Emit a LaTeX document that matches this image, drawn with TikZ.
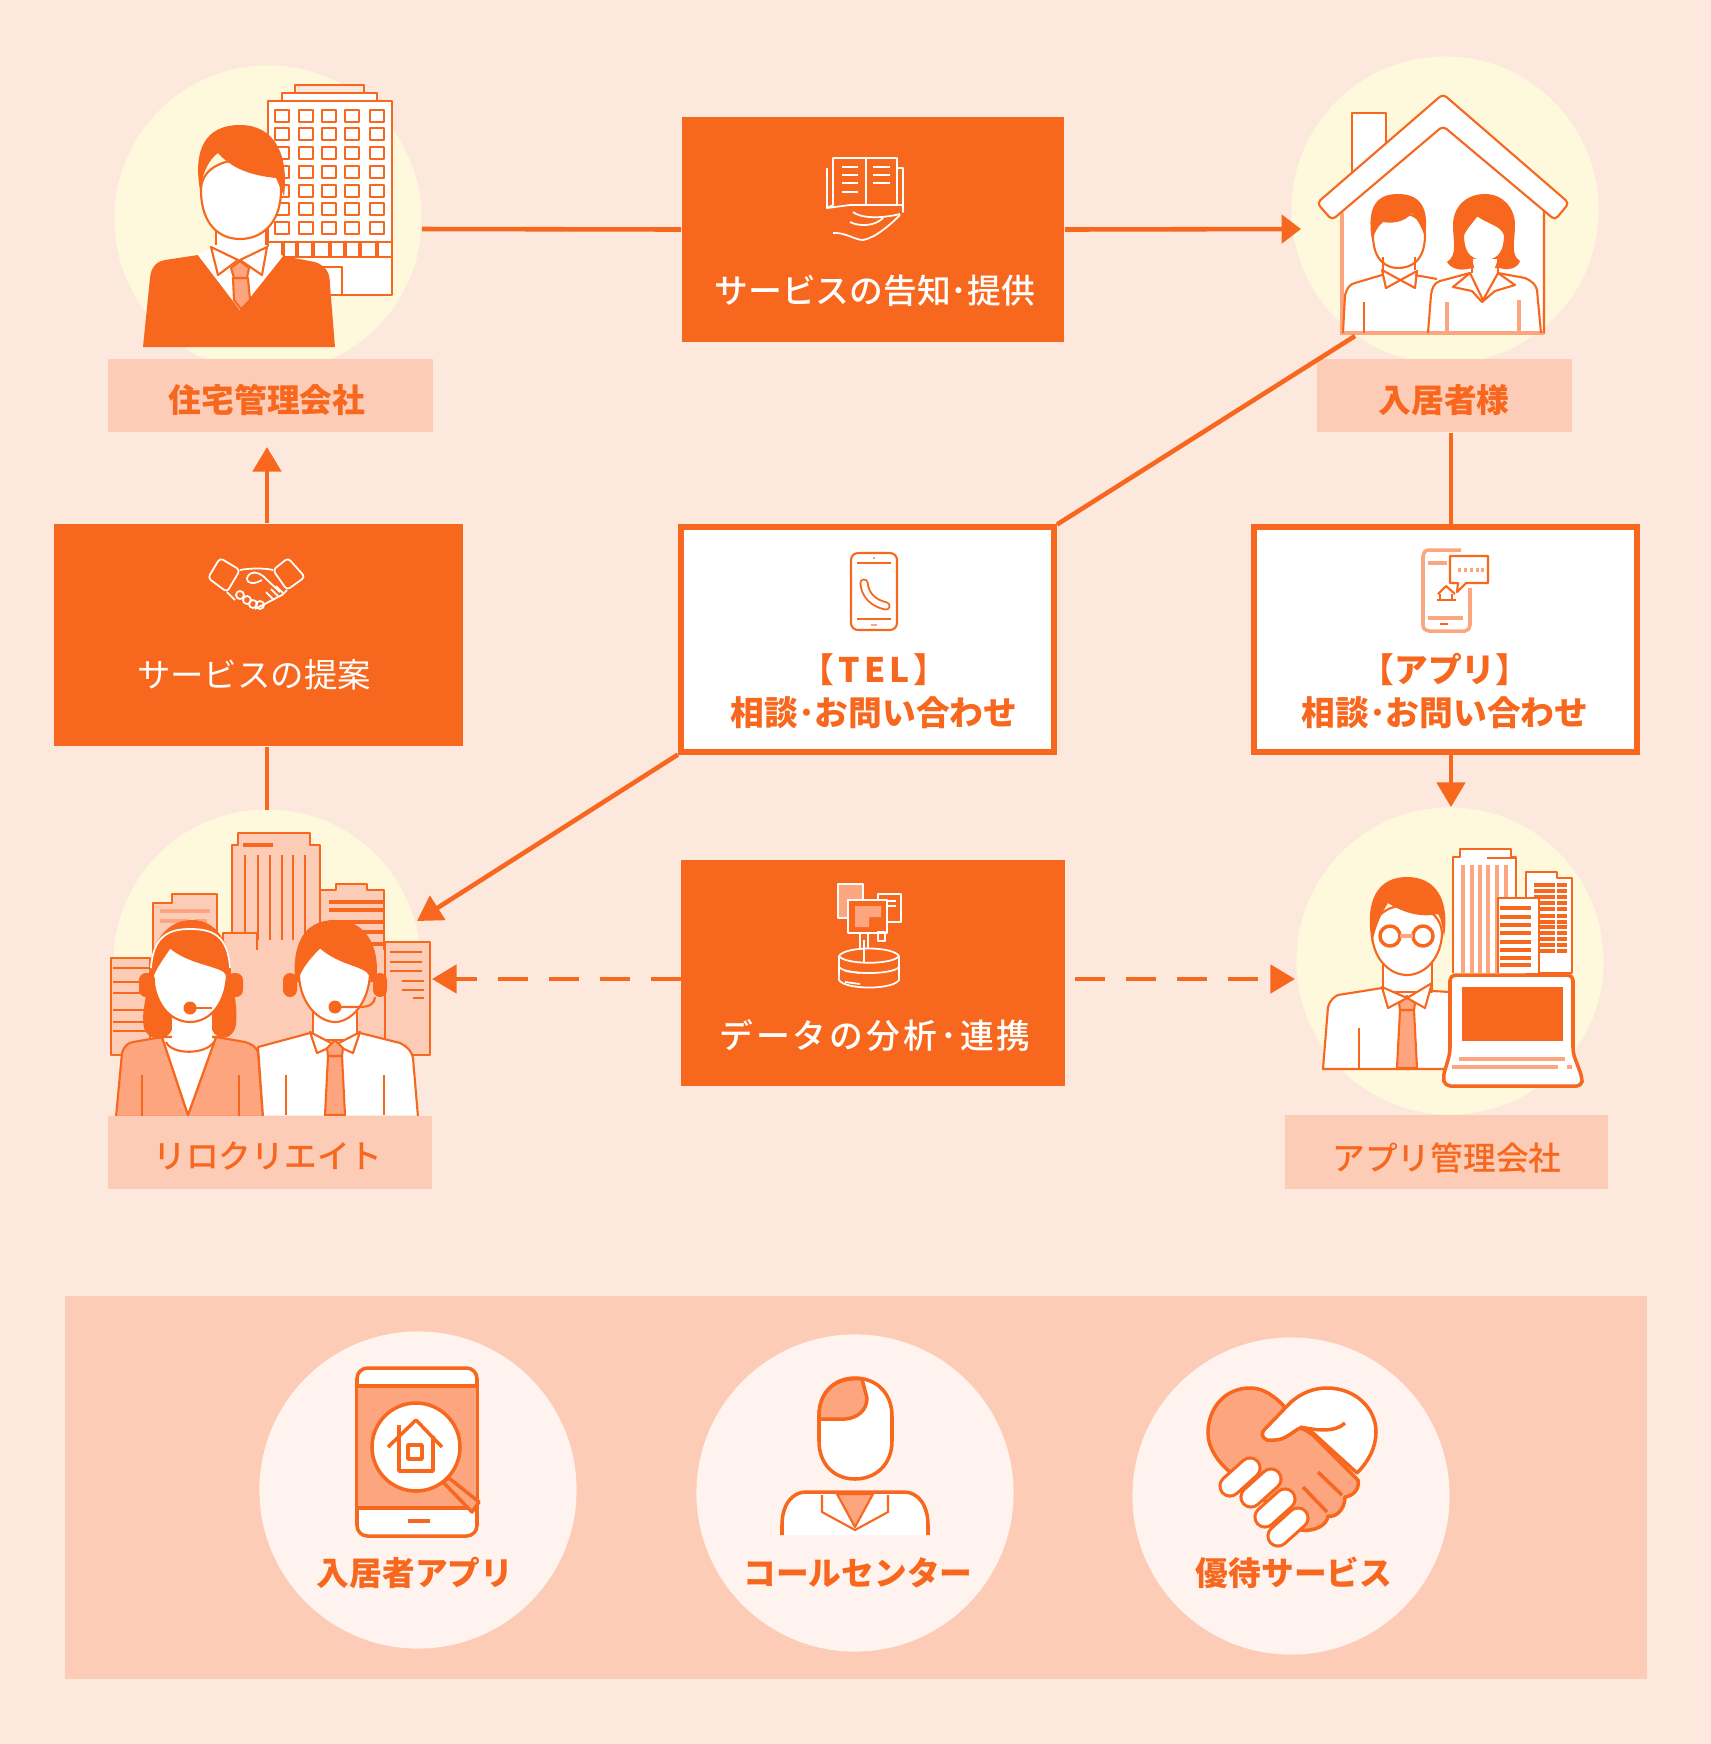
\documentclass[tikz,border=0pt]{standalone}
\usepackage{fontspec}
\usepackage{color}
\usetikzlibrary{arrows.meta}
\newfontfamily\jpfont{Noto Sans CJK JP}
\newfontfamily\jpmid{Noto Sans CJK JP Medium}
\newfontfamily\jpwide[LetterSpace=9]{Noto Sans CJK JP Medium}
\newfontfamily\jpgap[LetterSpace=12]{Noto Sans CJK JP Medium}
\definecolor{bgpeach}{HTML}{FDE8DE}
\definecolor{mainorange}{HTML}{F8671E}
\definecolor{labelpeach}{HTML}{FDCCB7}
\definecolor{discyellow}{HTML}{FEF8DC}
\definecolor{softorange}{HTML}{FCA57F}
\definecolor{paledisc}{HTML}{FEF3EE}
\begin{document}
\begin{tikzpicture}[x=0.01cm, y=-0.01cm]%
	\tikzstyle{disc}=[circle, fill=discyellow, minimum size=3.07cm, inner sep=0pt];
	\tikzstyle{paleround}=[circle, fill=paledisc, minimum size=3.17cm, inner sep=0pt];
	\tikzstyle{plate}=[rectangle, fill=labelpeach, inner sep=0pt, minimum height=0.73cm];
	\tikzstyle{solidbox}=[rectangle, fill=mainorange, inner sep=0pt];
	\tikzstyle{framebox}=[rectangle, draw=mainorange, fill=white, line width=1.7pt, inner sep=0pt];
	\tikzstyle{platetext}=[text=mainorange, inner sep=0pt, font=\jpfont\bfseries\fontsize{9.3pt}{11pt}\selectfont];
	\tikzstyle{midtext}=[text=mainorange, inner sep=0pt, font=\jpmid\fontsize{9.3pt}{11pt}\selectfont];
	\tikzstyle{boxtext}=[text=white, inner sep=0pt, font=\jpfont\fontsize{9.5pt}{11pt}\selectfont];
	\tikzstyle{frametext}=[text=mainorange, align=center, inner sep=0pt, font=\jpfont\bfseries\fontsize{9.6pt}{12.3pt}\selectfont];
	\tikzstyle{link}=[draw=mainorange, line width=1.3pt];
	\tikzstyle{flow}=[link, -{Triangle[length=7pt, width=8pt]}];
	\tikzstyle{flowdash}=[flow, dash pattern=on 8.5pt off 6pt];
	\tikzstyle{ink}=[draw=mainorange, line width=0.6pt, line join=round];
	\tikzstyle{soft}=[draw=softorange, line width=0.6pt];
	\tikzstyle{chalk}=[draw=white, line width=0.5pt, line join=round];
	\tikzstyle{bold}=[draw=mainorange, line width=1pt, line join=round];

	\fill[bgpeach] (0, 0) rectangle (1711, 1744);
	\useasboundingbox (0, 0) rectangle (1711, 1744);

	\node (panelarea) at (856, 1487.5) [rectangle, fill=labelpeach, inner sep=0pt, minimum width=15.82cm, minimum height=3.83cm] {};
	\node (managerdisc) at (268, 219) [disc] {};
	\node (tenantdisc) at (1445, 210) [disc] {};
	\node (relodisc) at (267, 963) [disc] {};
	\node (appcodisc) at (1450, 961) [disc] {};

	\draw[ink, fill=white] (268, 101) rectangle (392, 295);
	\draw[ink, fill=white] (282, 93) rectangle (377, 101);
	\draw[ink, fill=bgpeach] (295, 85) rectangle (364, 93);
	\foreach \wx in {282, 306, 329, 352, 377}
		\foreach \wy in {116, 134, 153, 172, 191, 209, 228}
			\draw[ink, line width=0.8pt, fill=white] (\wx-7, \wy-6) rectangle (\wx+7, \wy+6);
	\draw[ink] (268, 242) rectangle (392, 257);
	\foreach \wx in {283, 297, 313, 330, 345, 360, 377}
		\draw[ink, line width=1pt] (\wx, 242) -- (\wx, 257);
	\draw[ink] (323, 267) rectangle (342, 295);
	\draw[ink, fill=white] (216, 225) rectangle (266, 262);
	\fill[mainorange] (143, 347) -- (150, 278) .. controls (151, 266) and (158, 261) .. (165, 260) -- (198, 255) -- (240, 310) -- (283, 256) -- (315, 262) .. controls (326, 266) and (330, 272) .. (330, 285) -- (335, 347) -- cycle;
	\fill[white] (198, 255) -- (240, 310) -- (283, 256) -- (266, 245) -- (214, 245) -- cycle;
	\draw[ink, fill=white] (211, 247) -- (238, 260) -- (218, 275) -- cycle;
	\draw[ink, fill=white] (267, 247) -- (240, 260) -- (262, 275) -- cycle;
	\draw[ink, fill=softorange] (233, 278) -- (248, 278) -- (250, 300) -- (241, 309) -- (234, 300) -- cycle;
	\draw[ink, fill=softorange] (231, 268) -- (240, 261) -- (249, 268) -- (247, 278) -- (234, 278) -- cycle;
	\draw[ink, fill=white] (201, 190) .. controls (201, 225) and (220, 239) .. (240, 239) .. controls (260, 239) and (281, 225) .. (281, 190) .. controls (281, 150) and (201, 150) .. (201, 190) -- cycle;
	\fill[mainorange] (200, 190) .. controls (193, 150) and (205, 125) .. (240, 125) .. controls (275, 125) and (289, 155) .. (284, 196) -- (276, 178) .. controls (258, 176) and (235, 172) .. (218, 153) .. controls (208, 160) and (202, 175) .. (200, 190) -- cycle;

	\draw[ink, fill=white] (1352, 180) -- (1352, 113) -- (1386, 113) -- (1386, 150);
	\draw[ink, fill=white] (1342, 210) -- (1443, 120) -- (1544, 210) -- (1544, 333) -- (1342, 333) -- cycle;
	\draw[soft, line width=1pt] (1342, 213) -- (1342, 333) -- (1544, 333);
	\draw[ink, fill=white, rounded corners=1.2pt] (1443, 94) -- (1569, 203) -- (1555, 220) -- (1443, 126) -- (1332, 220) -- (1317, 203) -- cycle;
	\draw[ink, fill=white] (1373, 235) .. controls (1373, 262) and (1388, 268) .. (1398, 268) .. controls (1410, 268) and (1425, 262) .. (1425, 235) .. controls (1425, 205) and (1373, 205) .. (1373, 235) -- cycle;
	\fill[mainorange] (1372, 240) .. controls (1366, 205) and (1378, 194) .. (1398, 194) .. controls (1418, 194) and (1430, 205) .. (1425, 237) .. controls (1421, 225) and (1416, 218) .. (1412, 213) .. controls (1405, 222) and (1392, 224) .. (1383, 222) .. controls (1378, 226) and (1375, 232) .. (1372, 240) -- cycle;
	\draw[ink] (1383, 257) -- (1383, 270);
	\draw[ink] (1415, 257) -- (1415, 270);
	\draw[ink, fill=white] (1382, 270) -- (1415, 288) -- (1417, 271) -- (1386, 288) -- cycle;
	\draw[ink] (1343, 333) -- (1345, 295) .. controls (1347, 288) and (1350, 284) .. (1355, 283) -- (1382, 275);
	\draw[ink] (1415, 275) -- (1437, 279);
	\draw[ink] (1364, 302) -- (1364, 333);
	\fill[mainorange] (1485, 194) .. controls (1465, 194) and (1453, 208) .. (1453, 225) .. controls (1453, 240) and (1458, 255) .. (1447, 262) .. controls (1452, 270) and (1462, 271) .. (1472, 268) -- (1500, 268) .. controls (1508, 271) and (1518, 268) .. (1520, 261) .. controls (1510, 255) and (1515, 240) .. (1515, 225) .. controls (1515, 208) and (1503, 194) .. (1485, 194) -- cycle;
	\draw[ink, fill=white] (1463, 235) .. controls (1463, 258) and (1475, 261) .. (1484, 261) .. controls (1493, 261) and (1505, 258) .. (1505, 235) .. controls (1502, 225) and (1490, 224) .. (1477, 215) .. controls (1472, 222) and (1466, 228) .. (1463, 235) -- cycle;
	\fill[white] (1472, 259) -- (1483, 300) -- (1498, 259) -- cycle;
	\draw[ink] (1472, 259) -- (1472, 273);
	\draw[ink] (1498, 259) -- (1498, 273);
	\draw[ink] (1428, 333) -- (1431, 295) .. controls (1432, 288) and (1434, 283) .. (1440, 281) -- (1470, 273);
	\draw[ink] (1498, 273) -- (1525, 278) .. controls (1532, 281) and (1536, 285) .. (1537, 290) -- (1541, 333);
	\draw[ink, fill=white] (1470, 273) -- (1453, 287) -- (1472, 291) -- (1482, 302) -- (1495, 291) -- (1515, 285) -- (1498, 273) -- (1483, 300) -- cycle;
	\draw[soft, line width=1pt] (1447, 302) -- (1447, 333);
	\draw[soft, line width=1pt] (1519, 300) -- (1519, 333);
	\draw[ink] (1544, 213) -- (1544, 333);

	\fill[labelpeach] (150, 1055) -- (223, 1055) -- (223, 933) -- (385, 933) -- (385, 1055) -- cycle;
	\draw[ink, fill=labelpeach] (232, 933) -- (232, 845) -- (238, 845) -- (238, 833) -- (310, 833) -- (310, 845) -- (320, 845) -- (320, 940);
	\foreach \wx in {245, 258, 270, 282, 293, 305}
		\draw[ink, line width=0.8pt] (\wx, 855) -- (\wx, 940);
	\draw[ink, line width=1pt] (243, 845) -- (273, 845);
	\draw[ink, fill=labelpeach] (153, 960) -- (153, 903) -- (172, 903) -- (172, 894) -- (217, 894) -- (217, 933);
	\draw[soft, line width=1pt] (160, 911) -- (210, 911);
	\draw[soft, line width=1.4pt, dash pattern=on 8pt off 2pt] (160, 921) -- (207, 921);
	\draw[ink, fill=labelpeach] (320, 890) -- (336, 890) -- (336, 884) -- (367, 884) -- (367, 890) -- (384, 890) -- (384, 970) -- (320, 970) -- cycle;
	\foreach \wy in {902, 910, 922, 932, 944, 954}
		\draw[ink, line width=0.9pt] (329, \wy) -- (384, \wy);
	\draw[ink, fill=labelpeach] (223, 1055) -- (223, 933) -- (257, 933) -- (257, 1055);
	\fill[labelpeach] (225, 950) rectangle (384, 1054);
	\draw[ink, fill=labelpeach] (385, 942) rectangle (430, 1055);
	\foreach \wy in {952, 962, 971}
		\draw[ink, line width=0.8pt, dash pattern=on 9pt off 1pt] (390, \wy) -- (424, \wy);
	\foreach \wy in {981, 990}
		\draw[ink, line width=0.8pt] (402, \wy) -- (424, \wy);
	\draw[ink, line width=0.8pt] (413, 998) -- (424, 998);
	\draw[ink, fill=labelpeach] (111, 958) rectangle (150, 1055);
	\foreach \wy in {968, 982, 993, 1010, 1022, 1031}
		\draw[ink, line width=0.8pt] (113, \wy) -- (150, \wy);
	\draw[ink, line width=0.6pt, fill=softorange] (116, 1117) -- (122, 1053) .. controls (124, 1046) and (128, 1043) .. (133, 1042) -- (162, 1037) -- (188, 1115) -- (216, 1037) -- (245, 1042) .. controls (252, 1044) and (256, 1047) .. (258, 1052) -- (263, 1117) -- cycle;
	\draw[ink, fill=white] (162, 1037) -- (188, 1115) -- (216, 1037) -- cycle;
	\draw[ink] (142, 1075) -- (142, 1117);
	\draw[ink] (239, 1075) -- (239, 1117);
	\fill[mainorange] (192, 920) .. controls (165, 920) and (150, 945) .. (149, 975) .. controls (146, 1000) and (141, 1015) .. (144, 1028) .. controls (149, 1042) and (166, 1042) .. (172, 1030) -- (212, 1030) .. controls (218, 1042) and (233, 1040) .. (236, 1025) .. controls (238, 1005) and (233, 990) .. (231, 975) .. controls (231, 945) and (218, 920) .. (192, 920) -- cycle;
	\draw[white, line width=0.5pt] (151, 968) .. controls (153, 935) and (170, 929) .. (190, 929) .. controls (212, 929) and (228, 935) .. (230, 968);
	\fill[white] (172, 1015) rectangle (212, 1045);
	\draw[ink] (166, 1042) .. controls (172, 1055) and (205, 1055) .. (214, 1042);
	\draw[ink, fill=white] (153, 975) .. controls (155, 1010) and (175, 1022) .. (190, 1022) .. controls (205, 1022) and (225, 1010) .. (227, 975) .. controls (225, 965) and (190, 965) .. (170, 947) .. controls (165, 955) and (157, 965) .. (153, 975) -- cycle;
	\fill[mainorange, rounded corners=2pt] (139, 973) rectangle (155, 997);
	\fill[mainorange, rounded corners=2pt] (227, 973) rectangle (243, 997);
	\fill[mainorange] (190, 1008) circle (6.5);
	\draw[ink] (196, 1008) -- (212, 1008);

	\draw[ink, fill=white] (263, 1117) -- (258, 1047) -- (310, 1033) -- (360, 1033) -- (400, 1043) .. controls (408, 1047) and (412, 1052) .. (413, 1058) -- (418, 1117) -- cycle;
	\draw[ink, fill=white] (313, 1012) rectangle (357, 1040);
	\draw[ink, fill=white] (310, 1032) -- (335, 1045) -- (317, 1053) -- cycle;
	\draw[ink, fill=white] (360, 1032) -- (335, 1045) -- (353, 1053) -- cycle;
	\draw[ink, fill=softorange] (328, 1056) -- (342, 1056) -- (345, 1115) -- (325, 1115) -- cycle;
	\draw[ink, fill=softorange] (327, 1048) -- (335, 1040) -- (343, 1048) -- (342, 1056) -- (328, 1056) -- cycle;
	\draw[ink] (286, 1075) -- (286, 1115);
	\draw[ink] (384, 1075) -- (384, 1115);
	\fill[mainorange] (335, 920) .. controls (303, 920) and (292, 945) .. (295, 982) -- (376, 982) .. controls (381, 945) and (365, 920) .. (335, 920) -- cycle;
	\draw[ink, fill=white] (299, 975) .. controls (300, 1005) and (320, 1022) .. (335, 1022) .. controls (350, 1022) and (368, 1005) .. (370, 975) .. controls (366, 965) and (340, 965) .. (320, 947) .. controls (312, 955) and (303, 965) .. (299, 975) -- cycle;
	\fill[mainorange, rounded corners=2pt] (283, 973) rectangle (297, 997);
	\fill[mainorange, rounded corners=2pt] (373, 973) rectangle (387, 997);
	\fill[mainorange] (335, 1007) circle (6.5);
	\draw[ink] (341, 1007) -- (360, 1007) .. controls (370, 1007) and (375, 1003) .. (375, 997);

	\draw[ink, line width=0.8pt, fill=white] (1453, 973) -- (1453, 857) -- (1460, 857) -- (1460, 849) -- (1511, 849) -- (1511, 857) -- (1516, 857) -- (1516, 973);
	\foreach \wx in {1463, 1472, 1480, 1488, 1497, 1506}
		\draw[ink, line width=0.9pt, draw=softorange] (\wx, 865) -- (\wx, 973);
	\draw[ink] (1487, 858) -- (1516, 858);
	\draw[ink, fill=white] (1526, 973) -- (1526, 872) -- (1557, 872) -- (1557, 878) -- (1572, 878) -- (1572, 973) -- cycle;
	\foreach \wy in {885, 891, 897, 903, 909, 916, 922, 927, 933, 939, 945, 951}
		\draw[ink, line width=1.3pt, dash pattern=on 6pt off 0.6pt] (1534, \wy) -- (1567, \wy);
	\draw[ink, fill=white] (1498, 973) -- (1498, 898) -- (1539, 898) -- (1539, 973);
	\foreach \wy in {908, 917, 925, 933, 942, 950, 958, 965}
		\draw[ink, line width=1.3pt] (1500, \wy) -- (1531, \wy);
	\draw[ink, fill=white] (1323, 1069) -- (1328, 1007) .. controls (1330, 1000) and (1334, 997) .. (1338, 995) -- (1382, 988) -- (1450, 992) -- (1450, 1069) -- cycle;
	\draw[ink] (1359, 1028) -- (1359, 1069);
	\draw[ink, fill=white] (1383, 960) rectangle (1432, 992);
	\draw[ink, fill=softorange] (1400, 1010) -- (1414, 1010) -- (1417, 1068) -- (1397, 1068) -- cycle;
	\draw[ink, fill=softorange] (1399, 1003) -- (1407, 996) -- (1415, 1003) -- (1414, 1010) -- (1400, 1010) -- cycle;
	\draw[ink, fill=white] (1382, 987) -- (1407, 998) -- (1388, 1008) -- cycle;
	\draw[ink, fill=white] (1432, 983) -- (1407, 998) -- (1425, 1008) -- cycle;
	\draw[ink, fill=white] (1372, 935) .. controls (1374, 962) and (1392, 975) .. (1407, 975) .. controls (1422, 975) and (1440, 962) .. (1442, 935) .. controls (1442, 895) and (1372, 895) .. (1372, 935) -- cycle;
	\fill[mainorange] (1372, 943) .. controls (1364, 900) and (1378, 877) .. (1407, 877) .. controls (1436, 877) and (1450, 900) .. (1444, 937) .. controls (1442, 925) and (1441, 918) .. (1438, 914) .. controls (1420, 918) and (1402, 912) .. (1388, 903) .. controls (1382, 912) and (1376, 925) .. (1372, 943) -- cycle;
	\draw[ink, line width=1pt, fill=white] (1390, 936) circle (10);
	\draw[ink, line width=1pt, fill=white] (1423, 936) circle (10);
	\draw[ink, line width=1pt, draw=softorange] (1400, 936) -- (1413, 936);
	\draw[ink, line width=1pt, fill=white, rounded corners=1.5pt] (1450, 1053) -- (1450, 975) -- (1573, 975) -- (1573, 1053) -- (1582, 1077) -- (1582, 1086) -- (1445, 1086) -- (1443, 1077) -- cycle;
	\fill[mainorange] (1462, 987) rectangle (1563, 1041);
	\draw[soft, line width=1pt] (1459, 1059) -- (1565, 1059);
	\draw[soft, line width=1pt] (1452, 1067) -- (1558, 1067);
	\draw[soft, line width=1pt] (1567, 1067) -- (1572, 1067);

	\coordinate (managerout) at (422, 229);
	\coordinate (tenantin) at (1301, 229);
	\coordinate (tenantout) at (1355, 336);
	\coordinate (reloin) at (417, 921);
	\coordinate (proposetop) at (267, 447);
	\coordinate (relotop) at (267, 810);
	\coordinate (appin) at (1451, 807);
	\coordinate (dataleft) at (432, 979);
	\coordinate (dataright) at (1075, 979);
	\coordinate (appdata) at (1295, 979);

	\node (managerplate) at (270.5, 395.5) [plate, minimum width=3.25cm] {};
	\node (tenantplate) at (1444.5, 395.5) [plate, minimum width=2.55cm] {};
	\node (reloplate) at (270, 1152.5) [plate, minimum width=3.24cm] {};
	\node (appcoplate) at (1446.5, 1152) [plate, minimum width=3.23cm] {};
	\node (managertext) at (267, 400) [platetext] {住宅管理会社};
	\node (tenanttext) at (1444, 400) [platetext] {入居者様};
	\node (relotext) at (268, 1156) [midtext] {リロクリエイト};
	\node (appcotext) at (1447, 1158) [midtext] {アプリ管理会社};

	\node (noticebox) at (873, 229.5) [solidbox, minimum width=3.82cm, minimum height=2.25cm] {};
	\node (proposebox) at (258.5, 635) [solidbox, minimum width=4.09cm, minimum height=2.22cm] {};
	\node (databox) at (873, 973) [solidbox, minimum width=3.83cm, minimum height=2.26cm] {};
	\node (telbox) at (867.5, 639.5) [framebox, minimum width=3.73cm, minimum height=2.24cm] {};
	\node (appbox) at (1445.5, 639.5) [framebox, minimum width=3.82cm, minimum height=2.24cm] {};

	\node (noticetext) at (875, 291) [boxtext, font=\jpmid\fontsize{9.6pt}{11pt}\selectfont] {サービスの告知･提供};
	\node (proposetext) at (254, 675) [boxtext] {サービスの提案};
	\node (datatext) at (875, 1035) [boxtext, font=\jpwide\fontsize{9.6pt}{11pt}\selectfont] {データの分析･連携};
	\node (teltext) at (874, 691) [frametext] {{\jpgap 【TEL】}\\相談･お問い合わせ};
	\node (apptext) at (1445, 691) [frametext] {【アプリ】\\相談･お問い合わせ};

	\draw[link] (managerout) -- (noticebox.west);
	\draw[link, -{Triangle[length=5.5pt, width=8pt]}] (noticebox.east) -- (tenantin);
	\draw[link] (tenantout) -- (telbox.north east);
	\draw[flow] (telbox.south west) -- (reloin);
	\draw[link] (appin |- tenantplate.south) -- (appin |- appbox.north);
	\draw[flow] (appin |- appbox.south) -- (appin);
	\draw[link] (relotop) -- (relotop |- proposebox.south);
	\draw[flow] (proposetop |- proposebox.north) -- (proposetop);
	\draw[flowdash] (databox.west |- dataleft) -- (dataleft);
	\draw[flowdash] (dataright) -- (appdata);

	\draw[chalk, fill=mainorange] (827, 168) -- (827, 208) -- (850, 205) -- (903, 205) -- (903, 212) -- (903, 168) -- (897, 168) -- (897, 205) -- (866, 205) -- (866, 158) -- (833, 158) -- (833, 205) -- (827, 208);
	\draw[chalk] (866, 158) -- (897, 158) -- (897, 205);
	\foreach \wy in {167, 175, 183, 192}
		\draw[chalk] (842, \wy) -- (858, \wy);
	\foreach \wy in {167, 175, 183}
		\draw[chalk] (873, \wy) -- (890, \wy);
	\draw[chalk] (833, 233) .. controls (845, 232) and (855, 240) .. (863, 240) .. controls (875, 238) and (890, 225) .. (900, 215);
	\draw[chalk] (853, 212) .. controls (860, 218) and (880, 219) .. (900, 214);
	\draw[chalk] (850, 222) .. controls (860, 227) and (875, 226) .. (883, 218);

	\draw[chalk, rounded corners=1pt] (220, 558) -- (240, 570) -- (227, 592) -- (208, 578) -- cycle;
	\draw[chalk, rounded corners=1pt] (288, 558) -- (273, 570) -- (287, 590) -- (305, 577) -- cycle;
	\draw[chalk] (240, 570) .. controls (250, 568) and (265, 568) .. (273, 570);
	\draw[chalk] (227, 592) -- (235, 600);
	\draw[chalk] (287, 590) -- (282, 595) -- (255, 609);
	\draw[chalk] (247, 578) .. controls (250, 570) and (258, 572) .. (263, 576) -- (280, 592);
	\draw[chalk] (247, 578) .. controls (247, 585) and (255, 584) .. (262, 580);
	\foreach \wx/\wy in {240/595, 247/600, 253/604, 260/605}
		\draw[chalk] (\wx, \wy) circle (4);
	\foreach \wx/\wy in {266/592, 271/589, 276/586}
		\draw[chalk] (\wx, \wy) -- (\wx+7, \wy+7);

	\draw[ink, rounded corners=2pt] (851, 553) rectangle (897, 630);
	\draw[ink] (857, 563) -- (891, 563);
	\draw[ink] (857, 619) -- (891, 619);
	\draw[soft, line width=0.8pt] (871, 625) -- (877, 625);
	\fill[mainorange] (874, 558) circle (1);
	\draw[mainorange, line width=2.6pt, line cap=round] (864, 583) .. controls (865, 595) and (873, 603) .. (886, 606);
	\draw[white, line width=1.5pt, line cap=round] (864, 583) .. controls (865, 595) and (873, 603) .. (886, 606);

	\draw[soft, line width=1pt] (1461, 550) -- (1429, 550) .. controls (1425, 550) and (1423, 553) .. (1423, 556) -- (1423, 625) .. controls (1423, 629) and (1426, 631) .. (1429, 631) -- (1465, 631) .. controls (1468, 631) and (1470, 628) .. (1470, 625) -- (1470, 588);
	\draw[soft, line width=1pt] (1428, 563) -- (1447, 563);
	\draw[soft, line width=1.2pt] (1428, 618) -- (1463, 618);
	\draw[ink] (1440, 624) -- (1448, 624);
	\draw[ink, fill=white] (1450, 556) -- (1488, 556) -- (1488, 583) -- (1466, 583) -- (1457, 592) -- (1458, 583) -- (1450, 583) -- cycle;
	\foreach \wx in {1458, 1464, 1470, 1476, 1481}
		\fill[softorange] (\wx, 568) rectangle (\wx+3, 572);
	\draw[ink] (1437, 600) -- (1456, 600);
	\draw[ink] (1438, 594) -- (1446, 586) -- (1455, 594);
	\draw[ink] (1440, 594) -- (1440, 600);
	\draw[ink] (1452, 594) -- (1452, 600);

	\draw[chalk, fill=softorange] (838, 884) rectangle (863, 918);
	\draw[chalk] (878, 894) rectangle (901, 922);
	\draw[chalk] (884, 901) -- (896, 901);
	\draw[chalk] (884, 906) -- (896, 906);
	\draw[chalk, fill=mainorange] (848, 900) rectangle (887, 933);
	\fill[softorange] (855, 906) -- (881, 906) -- (881, 917) -- (869, 917) -- (869, 927) -- (855, 927) -- cycle;
	\draw[chalk] (860, 933) -- (860, 956);
	\draw[chalk] (868, 933) -- (868, 956);
	\draw[chalk] (878, 932) rectangle (885, 941);
	\draw[chalk, fill=mainorange] (839, 956) -- (839, 980) .. controls (845, 990) and (893, 990) .. (899, 980) -- (899, 956) .. controls (893, 946) and (845, 946) .. (839, 956) -- cycle;
	\draw[chalk] (839, 956) .. controls (845, 965) and (893, 965) .. (899, 956);
	\draw[chalk] (839, 967) .. controls (845, 975) and (893, 975) .. (899, 967);
	\draw[chalk] (864, 940) -- (864, 962);
	\draw[chalk] (845, 971) -- (860, 973);
	\draw[chalk] (845, 982) -- (860, 984);

	\node (appround) at (418, 1490) [paleround] {};
	\node (callround) at (855, 1493) [paleround] {};
	\node (perkround) at (1291, 1496) [paleround] {};

	\draw[bold, fill=white, rounded corners=3pt] (357, 1368) rectangle (477, 1536);
	\fill[softorange] (358, 1385) rectangle (476, 1508);
	\draw[bold] (357, 1386) -- (477, 1386);
	\draw[mainorange, line width=1.2pt] (357, 1508) -- (477, 1508);
	\draw[mainorange, line width=1.1pt] (408, 1521) -- (430, 1521);
	\draw[bold, fill=softorange] (443, 1482) -- (449, 1478) -- (479, 1502) -- (472, 1512) -- cycle;
	\draw[bold, fill=white] (416, 1447) circle (44);
	\draw[bold] (388, 1447) -- (416, 1420) -- (442, 1447);
	\draw[bold] (399, 1436) -- (399, 1471) -- (433, 1471) -- (433, 1436);
	\draw[bold] (399, 1425) -- (399, 1436);
	\draw[bold] (408, 1445) rectangle (422, 1459);

	\draw[bold, fill=white] (819, 1416) .. controls (819, 1392) and (835, 1378) .. (855, 1378) .. controls (875, 1378) and (892, 1392) .. (892, 1416) -- (892, 1441) .. controls (892, 1465) and (875, 1479) .. (855, 1479) .. controls (835, 1479) and (819, 1465) .. (819, 1441) -- cycle;
	\draw[bold, fill=softorange] (819, 1419) -- (845, 1419) .. controls (858, 1418) and (867, 1410) .. (867, 1398) -- (862, 1379) .. controls (835, 1376) and (819, 1392) .. (819, 1416) -- cycle;
	\draw[bold, fill=white] (782, 1535) -- (782, 1525) .. controls (782, 1505) and (792, 1492) .. (806, 1492) -- (904, 1492) .. controls (918, 1492) and (928, 1505) .. (928, 1525) -- (928, 1535);
	\draw[ink, fill=softorange] (837, 1494) -- (855, 1527) -- (873, 1494) -- cycle;
	\draw[ink] (822, 1495) -- (822, 1512) -- (855, 1530) -- (888, 1512) -- (888, 1495);

	\draw[bold, fill=softorange] (1283, 1405) .. controls (1270, 1392) and (1260, 1388) .. (1250, 1388) .. controls (1225, 1388) and (1208, 1408) .. (1208, 1433) .. controls (1208, 1448) and (1218, 1462) .. (1230, 1472) -- (1300, 1530) .. controls (1315, 1532) and (1327, 1525) .. (1328, 1516) .. controls (1335, 1518) and (1345, 1510) .. (1345, 1497) .. controls (1352, 1496) and (1360, 1490) .. (1358, 1480) -- (1313, 1435) -- (1290, 1420) -- cycle;
	\draw[bold, fill=white] (1290, 1403) .. controls (1302, 1392) and (1315, 1388) .. (1327, 1388) .. controls (1355, 1388) and (1376, 1408) .. (1376, 1432) .. controls (1376, 1448) and (1368, 1462) .. (1357, 1473) -- (1313, 1433) -- (1300, 1428) .. controls (1292, 1432) and (1285, 1440) .. (1275, 1440) -- (1267, 1440) .. controls (1262, 1438) and (1261, 1433) .. (1264, 1430) -- cycle;
	\draw[bold] (1300, 1427) .. controls (1315, 1430) and (1335, 1433) .. (1345, 1423);
	\draw[bold] (1318, 1472) -- (1342, 1495);
	\draw[bold] (1303, 1487) -- (1327, 1512);
	\foreach \wx/\wy in {1240/1477, 1261/1488, 1275/1508, 1288/1527} {
		\draw[mainorange, line width=6.6pt, line cap=round] (\wx-10, \wy+9) -- (\wx+10, \wy-9);
		\draw[white, line width=4.8pt, line cap=round] (\wx-10, \wy+9) -- (\wx+10, \wy-9);
	}

	\node (appname) at (415, 1573) [platetext] {入居者アプリ};
	\node (callname) at (858, 1573) [platetext] {コールセンター};
	\node (perkname) at (1294, 1573) [platetext] {優待サービス};
\end{tikzpicture}
\end{document}
